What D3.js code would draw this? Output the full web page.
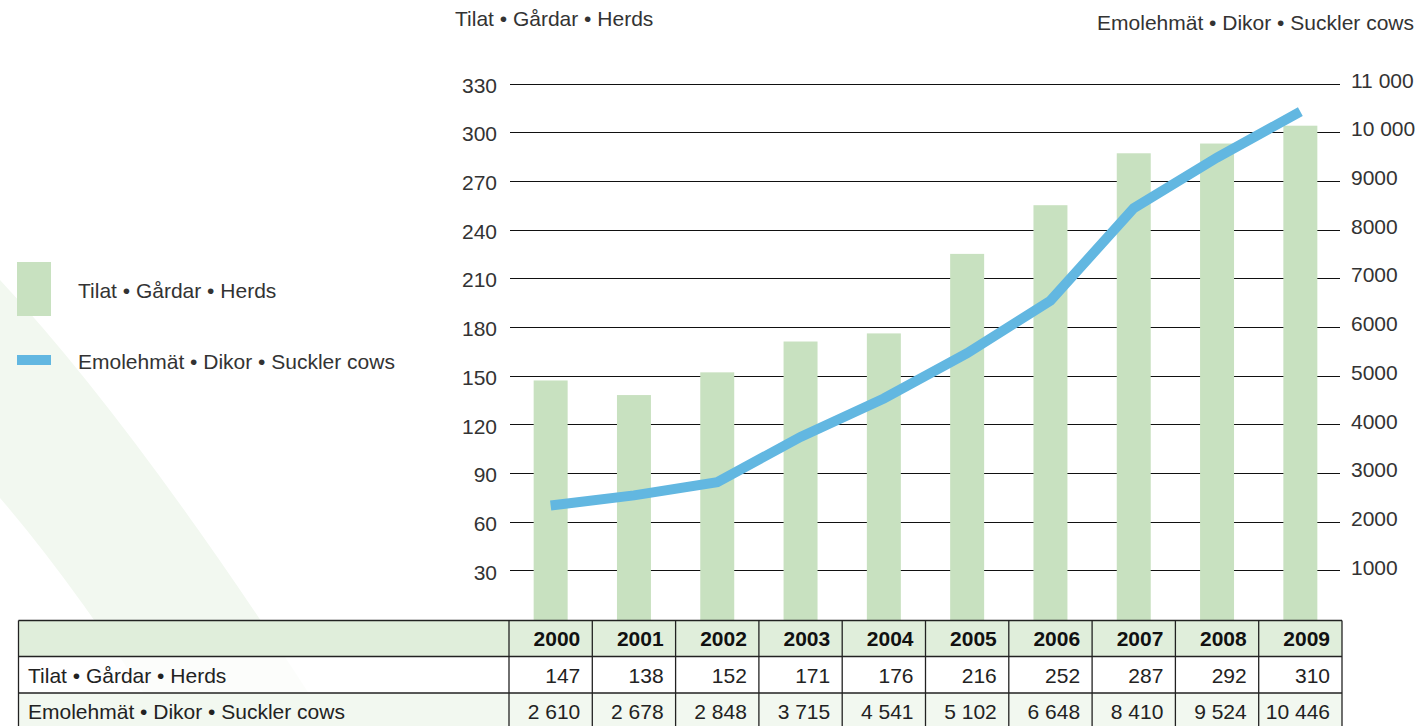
<!DOCTYPE html>
<html>
<head>
<meta charset="utf-8">
<script src="https://cdn.jsdelivr.net/npm/d3@7"></script>
<style>
  html, body { margin: 0; padding: 0; background: #fff; }
  svg { display: block; font-family: "Liberation Sans", Arial, Helvetica, sans-serif; }
</style>
</head>
<body>
<svg id="chart" width="1421" height="726"></svg>
<script>
// ---- data ----
const years = ["2000","2001","2002","2003","2004","2005","2006","2007","2008","2009"];
const herdsBars = [147, 138, 152, 171, 176, 225, 255, 287, 293, 304];          // as drawn
const cowsLine  = [2330, 2540, 2810, 3740, 4530, 5460, 6540, 8440, 9480, 10420]; // as drawn
const herdsTable = ["147","138","152","171","176","216","252","287","292","310"];
const cowsTable  = ["2 610","2 678","2 848","3 715","4 541","5 102","6 648","8 410","9 524","10 446"];
const leftTicks  = [30, 60, 90, 120, 150, 180, 210, 240, 270, 300, 330];
const rightTicks = [1000, 2000, 3000, 4000, 5000, 6000, 7000, 8000, 9000, 10000, 11000];
const seriesHerds = "Tilat \u2022 Gårdar \u2022 Herds";
const seriesCows  = "Emolehmät \u2022 Dikor \u2022 Suckler cows";

// ---- styles ----
const barColor = "#c8e1c0";
const lineColor = "#62b7e1";
const textColor = "#333";

const svg = d3.select("#chart");

// background swoosh
svg.append("path")
  .attr("d", "M0,280 Q140,430 330,726 L165,726 Q75,585 0,498 Z")
  .attr("fill", "#f2f8f0");

// scales
const plotLeft = 509, plotRight = 1342;
const xCol = d3.scaleBand().domain(years).range([plotLeft, plotRight]);
const xBar = d3.scaleBand().domain(years).range([plotLeft, plotRight])
  .paddingInner(0.592).paddingOuter(0.296);
const yL = d3.scaleLinear().domain([0, 330]).range([619, 83.5]);
const yR = d3.scaleLinear().domain([0, 11000]).range([619, 83.5]);

// gridlines
svg.append("g").selectAll("line").data(leftTicks).join("line")
  .attr("x1", 510).attr("x2", 1340)
  .attr("y1", d => Math.round(yL(d)) + 0.5).attr("y2", d => Math.round(yL(d)) + 0.5)
  .attr("stroke", "#111").attr("stroke-width", 1);

// left axis labels
const leftAxis = d3.axisLeft(yL).tickValues(leftTicks).tickSize(0).tickPadding(0);
const gL = svg.append("g").attr("transform", "translate(497,2)").call(leftAxis);
gL.select(".domain").remove();
gL.selectAll("text").attr("font-size", 21).attr("fill", textColor)
  .attr("font-family", "Liberation Sans, Arial, sans-serif");

// right axis labels
const fmtR = d => d >= 10000 ? d3.format(",")(d).replace(",", " ") : String(d);
const rightAxis = d3.axisRight(yR).tickValues(rightTicks).tickSize(0).tickPadding(0).tickFormat(fmtR);
const gR = svg.append("g").attr("transform", "translate(1351,-3)").call(rightAxis);
gR.select(".domain").remove();
gR.selectAll("text").attr("font-size", 21).attr("fill", textColor)
  .attr("font-family", "Liberation Sans, Arial, sans-serif");

// bars
svg.append("g").selectAll("rect").data(years).join("rect")
  .attr("x", d => xBar(d))
  .attr("width", xBar.bandwidth())
  .attr("y", (d, i) => yL(herdsBars[i]))
  .attr("height", (d, i) => yL(0) - yL(herdsBars[i]) + 2)
  .attr("fill", barColor);

// line
const line = d3.line()
  .x((d, i) => xBar(years[i]) + xBar.bandwidth() / 2)
  .y(d => yR(d));
svg.append("path").datum(cowsLine)
  .attr("d", line)
  .attr("fill", "none")
  .attr("stroke", lineColor)
  .attr("stroke-width", 10)
  .attr("stroke-linejoin", "miter");

// axis titles
svg.append("text").attr("x", 455).attr("y", 26).attr("font-size", 21).attr("fill", textColor).text(seriesHerds);
svg.append("text").attr("x", 1414).attr("y", 30).attr("text-anchor", "end").attr("font-size", 21).attr("fill", textColor).text(seriesCows);

// legend
svg.append("rect").attr("x", 17).attr("y", 262).attr("width", 34).attr("height", 54).attr("fill", barColor);
svg.append("rect").attr("x", 17).attr("y", 355).attr("width", 34).attr("height", 10).attr("fill", lineColor);
svg.append("text").attr("x", 78).attr("y", 298).attr("font-size", 21).attr("fill", textColor).text(seriesHerds);
svg.append("text").attr("x", 78).attr("y", 369).attr("font-size", 21).attr("fill", textColor).text(seriesCows);

// table
const tLeft = 18.5, tTop = 620.5, rowH = [36, 36.5, 36];
const rowY = [tTop, tTop + rowH[0], tTop + rowH[0] + rowH[1], tTop + rowH[0] + rowH[1] + rowH[2]];
const tg = svg.append("g");
const rowFills = ["#e0eedb", "rgba(255,255,255,0.75)", "#f2f8f0"];
tg.selectAll("rect.row").data(rowFills).join("rect")
  .attr("class", "row")
  .attr("x", tLeft).attr("width", plotRight - tLeft)
  .attr("y", (d, i) => rowY[i]).attr("height", (d, i) => rowH[i])
  .attr("fill", d => d);

// horizontal borders
tg.selectAll("line.h").data(rowY).join("line").attr("class", "h")
  .attr("x1", tLeft).attr("x2", plotRight)
  .attr("y1", d => d).attr("y2", d => d)
  .attr("stroke", "#222").attr("stroke-width", 1.3);
// vertical borders
const vx = [tLeft, plotLeft].concat(years.map(d => xCol(d) + xCol.bandwidth()));
tg.selectAll("line.v").data(vx).join("line").attr("class", "v")
  .attr("x1", d => d).attr("x2", d => d)
  .attr("y1", tTop).attr("y2", 726)
  .attr("stroke", "#222").attr("stroke-width", 1.3);

// header years
tg.selectAll("text.yr").data(years).join("text").attr("class", "yr")
  .attr("x", d => xCol(d) + xCol.bandwidth() - 12)
  .attr("y", 646).attr("text-anchor", "end")
  .attr("font-size", 21).attr("font-weight", "bold").attr("fill", "#111")
  .text(d => d);
// row labels
tg.append("text").attr("x", 28).attr("y", 683).attr("font-size", 21).attr("fill", "#222").text(seriesHerds);
tg.append("text").attr("x", 28).attr("y", 719).attr("font-size", 21).attr("fill", "#222").text(seriesCows);
// row values
tg.selectAll("text.h1").data(herdsTable).join("text").attr("class", "h1")
  .attr("x", (d, i) => xCol(years[i]) + xCol.bandwidth() - 12)
  .attr("y", 683).attr("text-anchor", "end").attr("font-size", 21).attr("fill", "#222")
  .text(d => d);
tg.selectAll("text.h2").data(cowsTable).join("text").attr("class", "h2")
  .attr("x", (d, i) => xCol(years[i]) + xCol.bandwidth() - 12)
  .attr("y", 719).attr("text-anchor", "end").attr("font-size", 21).attr("fill", "#222")
  .text(d => d);
</script>
</body>
</html>
